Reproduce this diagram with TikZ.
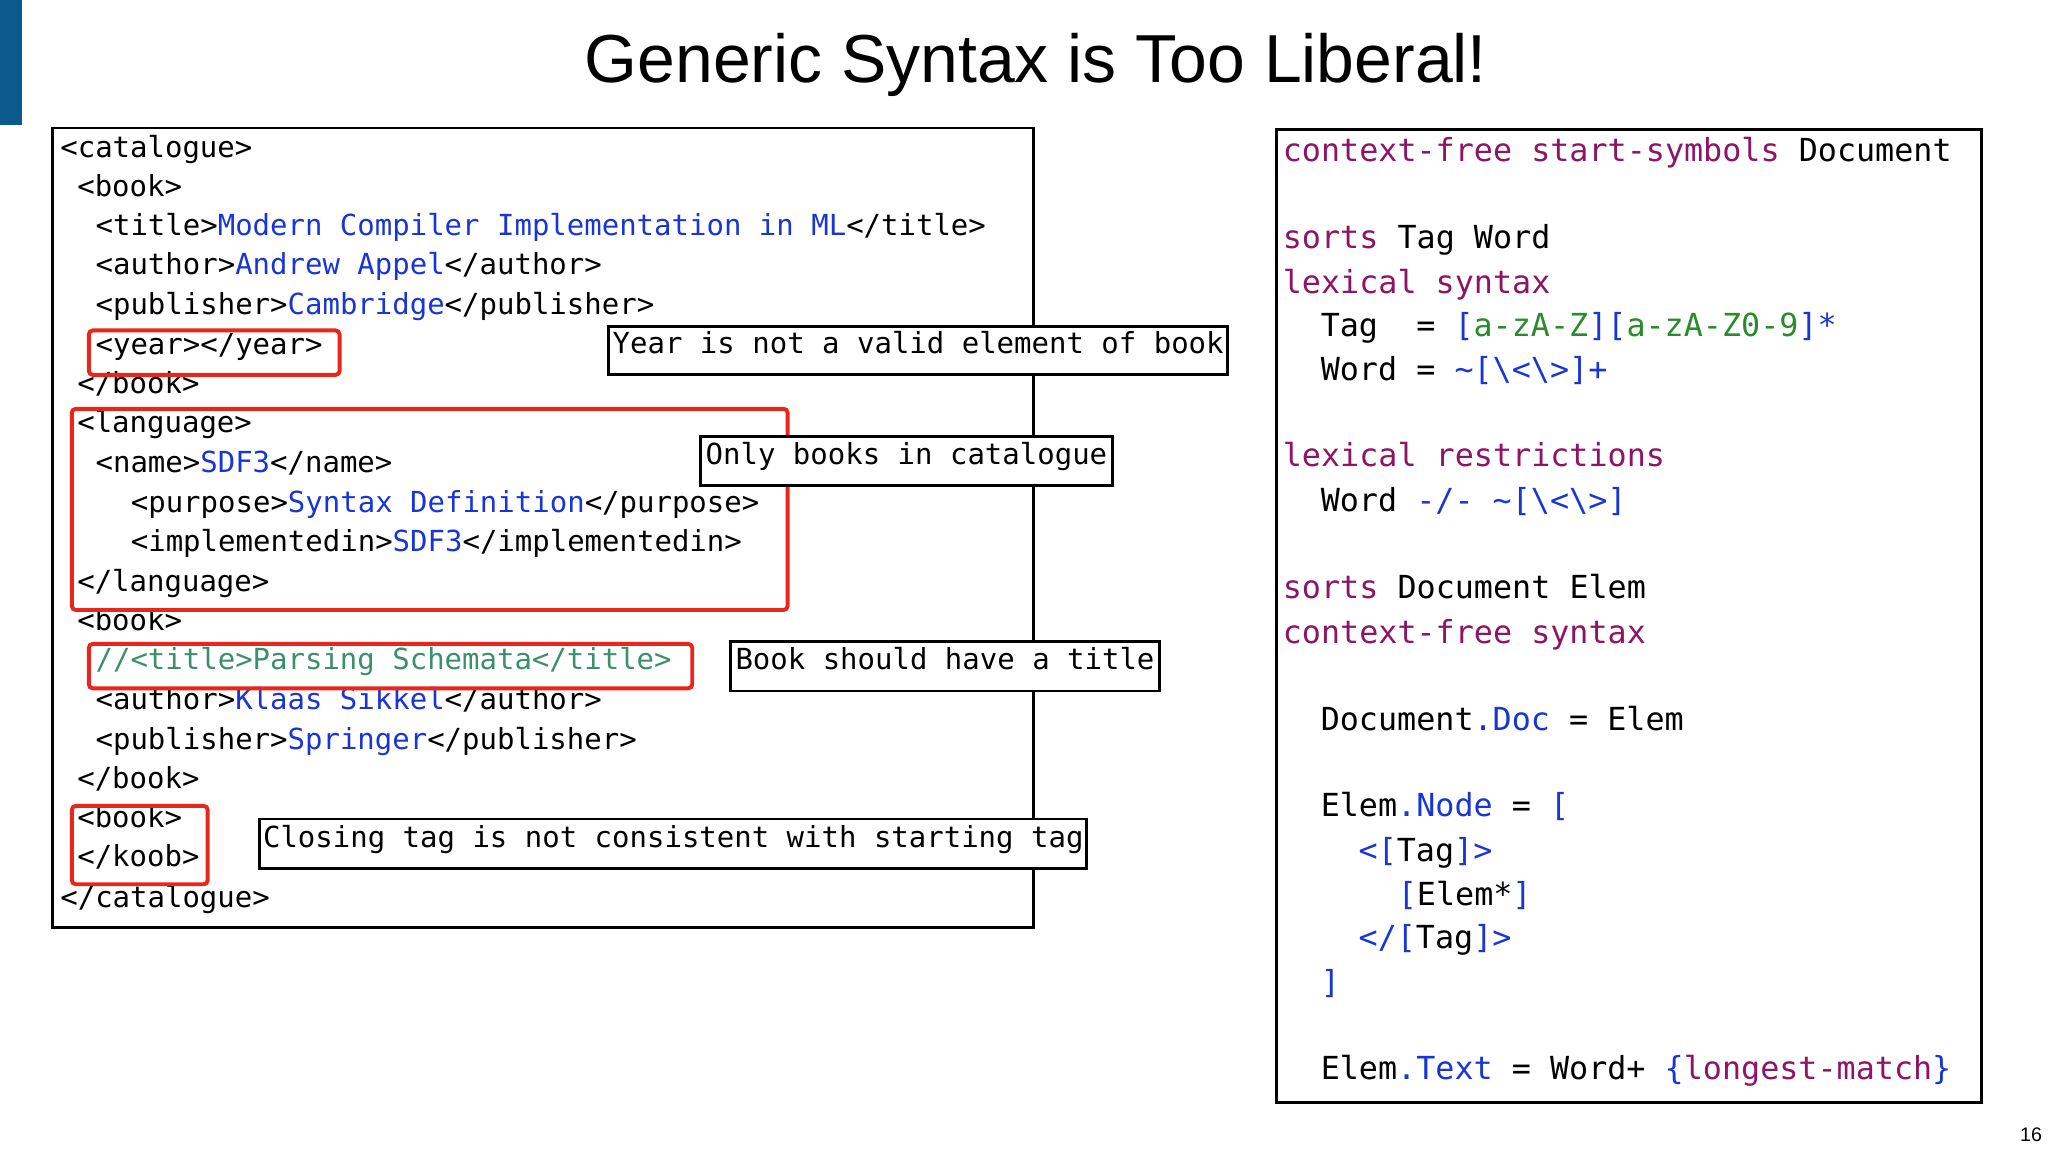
\documentclass[tikz,border=0pt]{standalone}
\usepackage{fontspec}
\setmainfont{Liberation Sans}
\newfontfamily\codefont{DejaVu Sans Mono}
\definecolor{kwpurple}{HTML}{8E1566}
\definecolor{cblue}{HTML}{1A35D6}
\definecolor{cgreen}{HTML}{2B8A2B}
\definecolor{cmgreen}{HTML}{3C8F6A}
\definecolor{redbox}{HTML}{E8261C}
\definecolor{barblue}{HTML}{0B5A8E}
\newcommand{\cb}[1]{\textcolor{cblue}{#1}}
\newcommand{\cpu}[1]{\textcolor{kwpurple}{#1}}
\newcommand{\cgr}[1]{\textcolor{cgreen}{#1}}
\begin{document}
\begin{tikzpicture}[x=1pt,y=-1pt,
  lt/.style={anchor=west,inner sep=0pt,font=\codefont\fontsize{22.2}{24}\selectfont,text height=0.75em,text depth=0.25em},
  rt/.style={anchor=west,inner sep=0pt,font=\codefont\fontsize{24.3}{26}\selectfont,text height=0.75em,text depth=0.25em},
  panel/.style={draw=black,line width=2.2pt},
  redb/.style={draw=redbox,line width=3pt,rounded corners=3pt},
  callout/.style={draw=black,line width=2.2pt,fill=white,inner sep=0pt}]
\useasboundingbox (0,0) rectangle (1568,882);
\fill[barblue] (0,0) rectangle (17,96);
\node[font=\fontsize{52}{56}\selectfont] (title) at (793,50) {Generic Syntax is Too Liberal!};
\node[font=\fontsize{15}{16}\selectfont] (pg) at (1555,869) {16};
% left panel
\draw[panel] (40,98) rectangle (791,710);
\def\u{13.4}
\node[lt] (l1) at (46,118) {<catalogue>};
\node[lt] (l2) at (59,148) {<book>};
\node[lt] (l3) at (73,178) {<title>\cb{Modern Compiler Implementation in ML}</title>};
\node[lt] (l4) at (73,208) {<author>\cb{Andrew Appel}</author>};
\node[lt] (l5) at (73,238) {<publisher>\cb{Cambridge}</publisher>};
\node[lt] (l6) at (73,269) {<year></year>};
\node[lt] (l7) at (59,299) {</book>};
\node[lt] (l8) at (59,329) {<language>};
\node[lt] (l9) at (73,359) {<name>\cb{SDF3}</name>};
\node[lt] (l10) at (100,390) {<purpose>\cb{Syntax Definition}</purpose>};
\node[lt] (l11) at (100,420) {<implementedin>\cb{SDF3}</implementedin>};
\node[lt] (l12) at (59,450) {</language>};
\node[lt] (l13) at (59,480) {<book>};
\node[lt,text=cmgreen] (l14) at (73,510) {//<title>Parsing Schemata</title>};
\node[lt] (l15) at (73,541) {<author>\cb{Klaas Sikkel}</author>};
\node[lt] (l16) at (73,571) {<publisher>\cb{Springer}</publisher>};
\node[lt] (l17) at (59,601) {</book>};
\node[lt] (l18) at (59,631) {<book>};
\node[lt] (l19) at (59,661) {</koob>};
\node[lt] (l20) at (46,692) {</catalogue>};
% red boxes
\draw[redb] (68,253) rectangle (260,287);
\draw[redb] (55,313) rectangle (603,467);
\draw[redb] (68,493) rectangle (530,527);
\draw[redb] (55,617) rectangle (159,677);
% callouts
\node[callout,minimum width=474,minimum height=37,lt,anchor=center] (c1) at (703,268.5) {Year is not a valid element of book};
\node[callout,minimum width=316,minimum height=38,lt,anchor=center] (c2) at (694,353) {Only books in catalogue};
\node[callout,minimum width=329,minimum height=38,lt,anchor=center] (c3) at (723.5,510) {Book should have a title};
\node[callout,minimum width=633,minimum height=38,lt,anchor=center] (c4) at (515.5,646) {Closing tag is not consistent with starting tag};
% right panel
\draw[panel] (977,99) rectangle (1517,844);
\node[rt] (r1) at (982,121) {\cpu{context-free start-symbols} Document};
\node[rt] (r2) at (982,188) {\cpu{sorts} Tag Word};
\node[rt] (r3) at (982,222) {\cpu{lexical syntax}};
\node[rt] (r4) at (1011,255) {Tag\ \ = \cb{[}\cgr{a-zA-Z}\cb{][}\cgr{a-zA-Z0-9}\cb{]*}};
\node[rt] (r5) at (1011,289) {Word = \cb{\textasciitilde[\textbackslash<\textbackslash>]+}};
\node[rt] (r6) at (982,355) {\cpu{lexical restrictions}};
\node[rt] (r7) at (1011,389) {Word \cb{-/- \textasciitilde[\textbackslash<\textbackslash>]}};
\node[rt] (r8) at (982,456) {\cpu{sorts} Document Elem};
\node[rt] (r9) at (982,490) {\cpu{context-free syntax}};
\node[rt] (r10) at (1011,557) {Document\cb{.Doc} = Elem};
\node[rt] (r11) at (1011,623) {Elem\cb{.Node} = \cb{[}};
\node[rt] (r12) at (1040,657) {\cb{<[}Tag\cb{]>}};
\node[rt] (r13) at (1070,691) {\cb{[}Elem*\cb{]}};
\node[rt] (r14) at (1040,724) {\cb{</[}Tag\cb{]>}};
\node[rt] (r15) at (1011,758) {\cb{]}};
\node[rt] (r16) at (1011,824) {Elem\cb{.Text} = Word+ \cb{\{}\cpu{longest-match}\cb{\}}};
\end{tikzpicture}
\end{document}
